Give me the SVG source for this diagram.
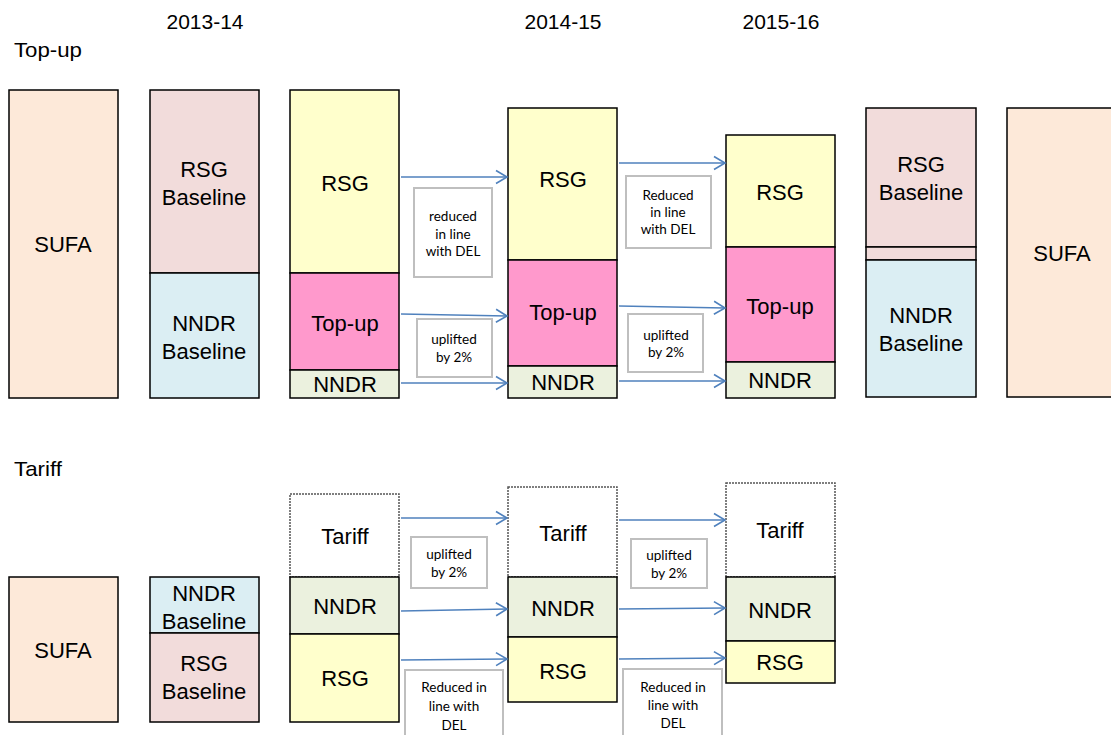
<svg xmlns="http://www.w3.org/2000/svg" width="1111" height="735" viewBox="0 0 1111 735">
<defs>
<marker id="ah" markerUnits="userSpaceOnUse" markerWidth="14" markerHeight="16" viewBox="0 0 14 16" refX="12" refY="8" orient="auto">
<path d="M1,1.5 L12,8 L1,14.5" fill="none" stroke="#4f81bd" stroke-width="1.6"/>
</marker>
<style>
.b{stroke:#000;stroke-width:1.5}
.sufa{fill:#fde9d9}
.rsgb{fill:#f2dcdb}
.nndrb{fill:#dbeef3}
.rsg{fill:#ffffcc}
.top{fill:#ff99cc}
.nndr{fill:#ebf1de}
.tar{fill:#fff;stroke:#555;stroke-width:1.5;stroke-dasharray:2 1}
.t{font-family:"Liberation Sans",Arial,sans-serif;font-size:22px;fill:#000;text-anchor:middle}
.h{font-family:"Liberation Sans",Arial,sans-serif;font-size:21px;fill:#000}
.lb{fill:#fff;stroke:#bfbfbf;stroke-width:2}
.s{font-family:Lato,"Open Sans",sans-serif;font-size:13.5px;fill:#000;text-anchor:middle}
.c{fill:none;stroke:#4f81bd;stroke-width:1.6;marker-end:url(#ah)}
</style>
</defs>
<rect width="1111" height="735" fill="#fff"/>
<g id="headings">
<text class="h" x="205" y="29" text-anchor="middle">2013-14</text>
<text class="h" x="563" y="29" text-anchor="middle">2014-15</text>
<text class="h" x="781" y="29" text-anchor="middle">2015-16</text>
<text class="h" x="14" y="57" textLength="68" lengthAdjust="spacingAndGlyphs">Top-up</text>
<text class="h" x="14" y="476" textLength="48" lengthAdjust="spacingAndGlyphs">Tariff</text>
</g>
<!-- Top-up section -->
<g id="top-sufa-left">
<rect class="sufa b" x="9" y="90" width="109" height="308"/>
<text class="t" x="63" y="252">SUFA</text>
</g>
<g id="top-baseline-left">
<rect class="rsgb b" x="150" y="90" width="109" height="183"/>
<rect class="nndrb b" x="150" y="273" width="109" height="125"/>
<text class="t" x="204" y="177">RSG</text>
<text class="t" x="204" y="205">Baseline</text>
<text class="t" x="204" y="331">NNDR</text>
<text class="t" x="204" y="359">Baseline</text>
</g>
<g id="top-2013">
<rect class="rsg b" x="290" y="90" width="109" height="183"/>
<rect class="top b" x="290" y="273" width="109" height="97"/>
<rect class="nndr b" x="290" y="370" width="109" height="28"/>
<text class="t" x="345" y="191">RSG</text>
<text class="t" x="345" y="331">Top-up</text>
<text class="t" x="345" y="392">NNDR</text>
</g>
<g id="top-2014">
<rect class="rsg b" x="508" y="108" width="109" height="152"/>
<rect class="top b" x="508" y="260" width="109" height="106"/>
<rect class="nndr b" x="508" y="366" width="109" height="32"/>
<text class="t" x="563" y="187">RSG</text>
<text class="t" x="563" y="320">Top-up</text>
<text class="t" x="563" y="390">NNDR</text>
</g>
<g id="top-2015">
<rect class="rsg b" x="726" y="135" width="109" height="112"/>
<rect class="top b" x="726" y="247" width="109" height="115"/>
<rect class="nndr b" x="726" y="362" width="109" height="36"/>
<text class="t" x="780" y="200">RSG</text>
<text class="t" x="780" y="314">Top-up</text>
<text class="t" x="780" y="388">NNDR</text>
</g>
<g id="top-baseline-right">
<rect class="rsgb b" x="866" y="108" width="110" height="139"/>
<rect class="rsgb b" x="866" y="247" width="110" height="13"/>
<rect class="nndrb b" x="866" y="260" width="110" height="137"/>
<text class="t" x="921" y="172">RSG</text>
<text class="t" x="921" y="200">Baseline</text>
<text class="t" x="921" y="323">NNDR</text>
<text class="t" x="921" y="351">Baseline</text>
</g>
<g id="top-sufa-right">
<rect class="sufa b" x="1007" y="108" width="115" height="289"/>
<text class="t" x="1062" y="261">SUFA</text>
</g>
<g id="top-notes">
<rect class="lb" x="414" y="188" width="78" height="89"/>
<text class="s" x="453" y="221">reduced</text>
<text class="s" x="453" y="239">in line</text>
<text class="s" x="453" y="256">with DEL</text>
<rect class="lb" x="417" y="319" width="75" height="58"/>
<text class="s" x="454" y="344">uplifted</text>
<text class="s" x="454" y="362">by 2%</text>
<rect class="lb" x="626" y="176" width="85" height="72"/>
<text class="s" x="668" y="200">Reduced</text>
<text class="s" x="668" y="217">in line</text>
<text class="s" x="668" y="234">with DEL</text>
<rect class="lb" x="628" y="314" width="75" height="58"/>
<text class="s" x="666" y="340">uplifted</text>
<text class="s" x="666" y="357">by 2%</text>
</g>
<!-- Tariff section -->
<g id="tariff-sufa">
<rect class="sufa b" x="9" y="577" width="109" height="145"/>
<text class="t" x="63" y="658">SUFA</text>
</g>
<g id="tariff-baseline">
<rect class="nndrb b" x="150" y="577" width="109" height="56"/>
<rect class="rsgb b" x="150" y="633" width="109" height="89"/>
<text class="t" x="204" y="601">NNDR</text>
<text class="t" x="204" y="629">Baseline</text>
<text class="t" x="204" y="671">RSG</text>
<text class="t" x="204" y="699">Baseline</text>
</g>
<g id="tariff-2013">
<rect class="tar" x="290" y="494" width="109" height="83"/>
<rect class="nndr b" x="290" y="577" width="109" height="57"/>
<rect class="rsg b" x="290" y="634" width="109" height="88"/>
<text class="t" x="345" y="544">Tariff</text>
<text class="t" x="345" y="614">NNDR</text>
<text class="t" x="345" y="686">RSG</text>
</g>
<g id="tariff-2014">
<rect class="tar" x="508" y="487" width="109" height="90"/>
<rect class="nndr b" x="508" y="577" width="109" height="60"/>
<rect class="rsg b" x="508" y="637" width="109" height="65"/>
<text class="t" x="563" y="541">Tariff</text>
<text class="t" x="563" y="616">NNDR</text>
<text class="t" x="563" y="679">RSG</text>
</g>
<g id="tariff-2015">
<rect class="tar" x="726" y="483" width="109" height="94"/>
<rect class="nndr b" x="726" y="577" width="109" height="64"/>
<rect class="rsg b" x="726" y="641" width="109" height="42"/>
<text class="t" x="780" y="538">Tariff</text>
<text class="t" x="780" y="618">NNDR</text>
<text class="t" x="780" y="670">RSG</text>
</g>
<g id="tariff-notes">
<rect class="lb" x="411" y="537" width="76" height="51"/>
<text class="s" x="449" y="559">uplifted</text>
<text class="s" x="449" y="577">by 2%</text>
<rect class="lb" x="405" y="670" width="98" height="80"/>
<text class="s" x="454" y="692">Reduced in</text>
<text class="s" x="454" y="711">line with</text>
<text class="s" x="454" y="730">DEL</text>
<rect class="lb" x="631" y="539" width="76" height="49"/>
<text class="s" x="669" y="560">uplifted</text>
<text class="s" x="669" y="578">by 2%</text>
<rect class="lb" x="623" y="669" width="99" height="80"/>
<text class="s" x="673" y="692">Reduced in</text>
<text class="s" x="673" y="710">line with</text>
<text class="s" x="673" y="728">DEL</text>
</g>
<g id="connectors">
<path class="c" d="M401,177 L507,177"/>
<path class="c" d="M401,314 L507,316"/>
<path class="c" d="M401,383 L507,383"/>
<path class="c" d="M619,163 L725,163"/>
<path class="c" d="M619,306 L725,308"/>
<path class="c" d="M619,381 L725,381"/>
<path class="c" d="M401,518 L507,518"/>
<path class="c" d="M401,611 L507,609"/>
<path class="c" d="M401,660 L507,659"/>
<path class="c" d="M619,520 L725,520"/>
<path class="c" d="M619,609 L725,608"/>
<path class="c" d="M619,659 L725,658"/>
</g>
</svg>
